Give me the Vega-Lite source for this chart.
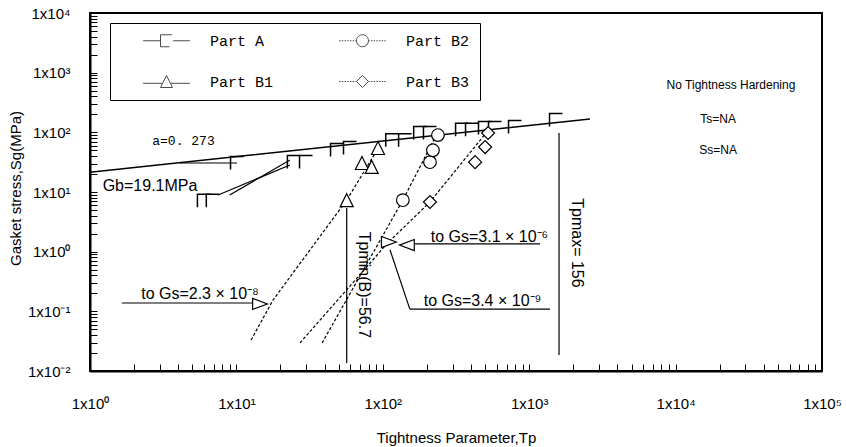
{
  "$schema": "https://vega.github.io/schema/vega-lite/v6.json",
  "width": 732,
  "height": 358,
  "autosize": {"type": "none"},
  "padding": {"left": 90, "top": 13, "right": 24, "bottom": 76},
  "background": "white",
  "config": {
    "view": {"stroke": "black", "strokeWidth": 2},
    "font": "Liberation Sans",
    "axis": {
      "grid": false,
      "ticks": true,
      "zindex": 2,
      "domainColor": "black",
      "domainWidth": 2,
      "tickColor": "black",
      "tickOpacity": 1,
      "tickWidth": 1,
      "labelColor": "black",
      "labelFont": "Liberation Sans",
      "labelFontSize": 15,
      "labelFlush": false,
      "labelOverlap": false,
      "titleColor": "black",
      "titleFont": "Liberation Sans",
      "titleFontSize": 15,
      "titleFontWeight": "normal"
    }
  },
  "datasets": {
    "pts": [
      {"series": "Part A", "Tp": 6.0, "Sg": 7.1},
      {"series": "Part A", "Tp": 6.9, "Sg": 7.1},
      {"series": "Part A", "Tp": 10.1, "Sg": 30.6},
      {"series": "Part A", "Tp": 24.7, "Sg": 31.8},
      {"series": "Part A", "Tp": 29.9, "Sg": 31.8},
      {"series": "Part A", "Tp": 48.7, "Sg": 50.6},
      {"series": "Part A", "Tp": 59.7, "Sg": 54.6},
      {"series": "Part A", "Tp": 116, "Sg": 74},
      {"series": "Part A", "Tp": 142, "Sg": 74},
      {"series": "Part A", "Tp": 180, "Sg": 97.5},
      {"series": "Part A", "Tp": 210, "Sg": 97.5},
      {"series": "Part A", "Tp": 348, "Sg": 110},
      {"series": "Part A", "Tp": 407, "Sg": 110},
      {"series": "Part A", "Tp": 499, "Sg": 118},
      {"series": "Part A", "Tp": 584, "Sg": 118},
      {"series": "Part A", "Tp": 800, "Sg": 123},
      {"series": "Part A", "Tp": 1525, "Sg": 161},
      {"series": "Part B1", "Tp": 56.7, "Sg": 7.3},
      {"series": "Part B1", "Tp": 72, "Sg": 30.6},
      {"series": "Part B1", "Tp": 84, "Sg": 26.3},
      {"series": "Part B1", "Tp": 92.7, "Sg": 54.6},
      {"series": "Part B2", "Tp": 137, "Sg": 7.3},
      {"series": "Part B2", "Tp": 210, "Sg": 31.6},
      {"series": "Part B2", "Tp": 220, "Sg": 50},
      {"series": "Part B2", "Tp": 238, "Sg": 90},
      {"series": "Part B3", "Tp": 210, "Sg": 6.8},
      {"series": "Part B3", "Tp": 427, "Sg": 31.6},
      {"series": "Part B3", "Tp": 500, "Sg": 56.7},
      {"series": "Part B3", "Tp": 524, "Sg": 97.5}
    ],
    "trend": [
      {"series": "Part B1", "i": 1, "Tp": 12.6, "Sg": 0.033},
      {"series": "Part B1", "i": 2, "Tp": 17.8, "Sg": 0.155},
      {"series": "Part B1", "i": 3, "Tp": 56.7, "Sg": 7.3},
      {"series": "Part B1", "i": 4, "Tp": 92, "Sg": 52},
      {"series": "Part B2", "i": 1, "Tp": 38.5, "Sg": 0.0295},
      {"series": "Part B2", "i": 2, "Tp": 137, "Sg": 7.3},
      {"series": "Part B2", "i": 3, "Tp": 246, "Sg": 118},
      {"series": "Part B3", "i": 1, "Tp": 27.2, "Sg": 0.0295},
      {"series": "Part B3", "i": 2, "Tp": 108, "Sg": 1.4},
      {"series": "Part B3", "i": 3, "Tp": 210, "Sg": 6.8},
      {"series": "Part B3", "i": 4, "Tp": 540, "Sg": 118}
    ],
    "main": [
      {"Tp": 1, "Sg": 21.5},
      {"Tp": 2600, "Sg": 167}
    ],
    "segs": [
      {"Tp": 4.1, "Sg": 30.6, "Tp2": 10.1, "Sg2": 30.6},
      {"Tp": 7.5, "Sg": 8.9, "Tp2": 23.2, "Sg2": 28.4},
      {"Tp": 9.0, "Sg": 8.9, "Tp2": 23.2, "Sg2": 34.4},
      {"Tp": 1.65, "Sg": 0.138, "Tp2": 12.8, "Sg2": 0.138},
      {"Tp": 166, "Sg": 1.35, "Tp2": 1186, "Sg2": 1.35},
      {"Tp": 112, "Sg": 1.07, "Tp2": 153, "Sg2": 0.109},
      {"Tp": 153, "Sg": 0.109, "Tp2": 1387, "Sg2": 0.109},
      {"Tp": 56.7, "Sg": 0.0136, "Tp2": 56.7, "Sg2": 5.4},
      {"Tp": 1599, "Sg": 0.0185, "Tp2": 1599, "Sg2": 97.5}
    ]
  },
  "encoding": {
    "x": {
      "field": "Tp",
      "type": "quantitative",
      "scale": {"type": "log", "domain": [1, 100000]},
      "axis": {
        "title": "Tightness Parameter,Tp",
        "values": [1,2,3,4,5,6,7,8,9,10,20,30,40,50,60,70,80,90,100,200,300,400,500,600,700,800,900,1000,2000,3000,4000,5000,6000,7000,8000,9000,10000,20000,30000,40000,50000,60000,70000,80000,90000,100000],
        "labelExpr": "abs(log(datum.value)/LN10 - round(log(datum.value)/LN10)) < 0.001 ? ('1x10' + replace(replace(replace(replace(replace(replace(replace('' + round(log(datum.value)/LN10), '-', '⁻'), '0', '⁰'), '1', '¹'), '2', '²'), '3', '³'), '4', '⁴'), '5', '⁵')) : ''",
        "tickSize": -7,
        "labelPadding": 32,
        "titleY": 66,
        "titleBaseline": "middle",
        "encode": {
          "ticks": {"update": {"stroke": {"value": "black"}, "strokeOpacity": {"value": 1}, "strokeWidth": {"value": 1}, "opacity": {"value": 1}}}
        }
      }
    },
    "y": {
      "field": "Sg",
      "type": "quantitative",
      "scale": {"type": "log", "domain": [0.01, 10000]},
      "axis": {
        "title": "Gasket stress,Sg(MPa)",
        "values": [0.01,0.02,0.03,0.04,0.05,0.06,0.07,0.08,0.09,0.1,0.2,0.3,0.4,0.5,0.6,0.7,0.8,0.9,1,2,3,4,5,6,7,8,9,10,20,30,40,50,60,70,80,90,100,200,300,400,500,600,700,800,900,1000,2000,3000,4000,5000,6000,7000,8000,9000,10000],
        "labelExpr": "abs(log(datum.value)/LN10 - round(log(datum.value)/LN10)) < 0.001 ? ('1x10' + replace(replace(replace(replace(replace(replace(replace('' + round(log(datum.value)/LN10), '-', '⁻'), '0', '⁰'), '1', '¹'), '2', '²'), '3', '³'), '4', '⁴'), '5', '⁵')) : ''",
        "tickSize": -7,
        "labelPadding": 27,
        "titleX": -75,
        "titleY": 175,
        "titleBaseline": "middle",
        "encode": {
          "ticks": {"update": {"stroke": {"value": "black"}, "strokeOpacity": {"value": 1}, "strokeWidth": {"value": 1}, "opacity": {"value": 1}}}
        }
      }
    }
  },
  "layer": [
    {
      "data": {"name": "main"},
      "mark": {"type": "line", "color": "black", "strokeWidth": 1.5},
      "encoding": {}
    },
    {
      "data": {"name": "segs"},
      "mark": {"type": "rule", "color": "black", "strokeWidth": 1.2},
      "encoding": {
        "x2": {"field": "Tp2"},
        "y2": {"field": "Sg2"}
      }
    },
    {
      "data": {"name": "trend"},
      "mark": {"type": "line", "color": "black", "strokeWidth": 1.2, "strokeDash": [3, 2]},
      "encoding": {
        "detail": {"field": "series"},
        "order": {"field": "i", "type": "quantitative"}
      }
    },
    {
      "data": {"name": "pts"},
      "transform": [{"filter": "datum.series == 'Part A'"}],
      "mark": {"type": "point", "shape": "M1,-1H-1V1", "filled": false, "color": "black", "strokeWidth": 1.5, "size": 169, "opacity": 1}
    },
    {
      "data": {"name": "pts"},
      "transform": [{"filter": "datum.series == 'Part B1'"}],
      "mark": {"type": "point", "shape": "M0,-1L1,1H-1Z", "filled": false, "fill": "white", "color": "black", "strokeWidth": 1.2, "size": 169, "opacity": 1}
    },
    {
      "data": {"name": "pts"},
      "transform": [{"filter": "datum.series == 'Part B2'"}],
      "mark": {"type": "point", "shape": "circle", "filled": false, "fill": "white", "color": "black", "strokeWidth": 1.2, "size": 160, "opacity": 1}
    },
    {
      "data": {"name": "pts"},
      "transform": [{"filter": "datum.series == 'Part B3'"}],
      "mark": {"type": "point", "shape": "diamond", "filled": false, "fill": "white", "color": "black", "strokeWidth": 1.2, "size": 169, "opacity": 1}
    },
    {
      "data": {"values": [{"Tp": 14.5, "Sg": 0.133}, {"Tp": 110, "Sg": 1.45}]},
      "mark": {"type": "point", "shape": "M-1,-0.75L1,0L-1,0.75Z", "filled": false, "fill": "white", "color": "black", "strokeWidth": 1.2, "size": 220, "opacity": 1}
    },
    {
      "data": {"values": [{"Tp": 146, "Sg": 1.29}]},
      "mark": {"type": "point", "shape": "M1,-0.75L-1,0L1,0.75Z", "filled": false, "fill": "white", "color": "black", "strokeWidth": 1.2, "size": 220, "opacity": 1}
    },
    {
      "data": {"values": [{"Tp": 4.35, "Sg": 72.4, "label": "a=0. 273"}]},
      "mark": {"type": "text", "font": "Liberation Mono", "fontSize": 13, "align": "center", "baseline": "middle", "color": "black"},
      "encoding": {"text": {"field": "label"}}
    },
    {
      "data": {"values": [
        {"Tp": 2.57, "Sg": 12.6, "label": "Gb=19.1MPa"},
        {"Tp": 5.64, "Sg": 0.195, "label": "to Gs=2.3 × 10⁻⁸"},
        {"Tp": 535, "Sg": 1.76, "label": "to Gs=3.1 × 10⁻⁶"},
        {"Tp": 480, "Sg": 0.149, "label": "to Gs=3.4 × 10⁻⁹"}
      ]},
      "mark": {"type": "text", "font": "Liberation Sans", "fontSize": 16, "align": "center", "baseline": "middle", "color": "black"},
      "encoding": {"text": {"field": "label"}}
    },
    {
      "data": {"values": [
        {"Tp": 23900, "Sg": 621, "label": "No Tightness Hardening"},
        {"Tp": 19500, "Sg": 165, "label": "Ts=NA"},
        {"Tp": 19500, "Sg": 50.6, "label": "Ss=NA"}
      ]},
      "mark": {"type": "text", "font": "Liberation Sans", "fontSize": 12, "align": "center", "baseline": "middle", "color": "black"},
      "encoding": {"text": {"field": "label"}}
    },
    {
      "data": {"values": [
        {"Tp": 74.4, "Sg": 0.277, "label": "Tpmin(B)=56.7"},
        {"Tp": 2122, "Sg": 1.4, "label": "Tpmax= 156"}
      ]},
      "mark": {"type": "text", "font": "Liberation Sans", "fontSize": 16, "angle": 90, "align": "center", "baseline": "middle", "color": "black"},
      "encoding": {"text": {"field": "label"}}
    },
    {
      "data": {"name": "pts"},
      "transform": [{"filter": "false"}],
      "mark": {"type": "point", "filled": false, "color": "black", "strokeWidth": 1, "size": 144},
      "encoding": {
        "shape": {
          "field": "series",
          "type": "nominal",
          "scale": {
            "domain": ["Part A", "Part B2", "Part B1", "Part B3"],
            "range": [
              "M-3.9,0H-1M-1,-1H0.9M-1,-1V1M-1,1H0.5M1.1,0H3.9",
              "M-1,0A1,1,0,1,1,1,0A1,1,0,1,1,-1,0M-3.9,0H-3.65M-3.45,0H-3.2M-3,0H-2.75M-2.55,0H-2.3M-2.1,0H-1.85M-1.65,0H-1.4M-1.2,0H-1M1,0H1.2M1.4,0H1.65M1.85,0H2.1M2.3,0H2.55M2.75,0H3M3.2,0H3.45M3.65,0H3.9",
              "M-3.9,0.3H-0.65M0,-1L1,1H-1ZM0.65,0.3H3.9",
              "M0,-1L1,0L0,1L-1,0ZM-3.9,0H-3.65M-3.45,0H-3.2M-3,0H-2.75M-2.55,0H-2.3M-2.1,0H-1.85M-1.65,0H-1.4M-1.2,0H-1M1,0H1.2M1.4,0H1.65M1.85,0H2.1M2.3,0H2.55M2.75,0H3M3.2,0H3.45M3.65,0H3.9"
            ]
          },
          "legend": {
            "title": null,
            "orient": "none",
            "legendX": 20,
            "legendY": 10,
            "columns": 2,
            "direction": "horizontal",
            "strokeColor": "black",
            "fillColor": "white",
            "padding": 10,
            "symbolOffset": 39,
            "labelOffset": 36,
            "columnPadding": 42,
            "rowPadding": 24,
            "labelFont": "Liberation Mono",
            "labelFontSize": 15,
            "labelColor": "black",
            "symbolSize": 144,
            "symbolStrokeWidth": 1,
            "symbolStrokeColor": "black",
            "symbolFillColor": "transparent"
          }
        }
      }
    }
  ]
}
